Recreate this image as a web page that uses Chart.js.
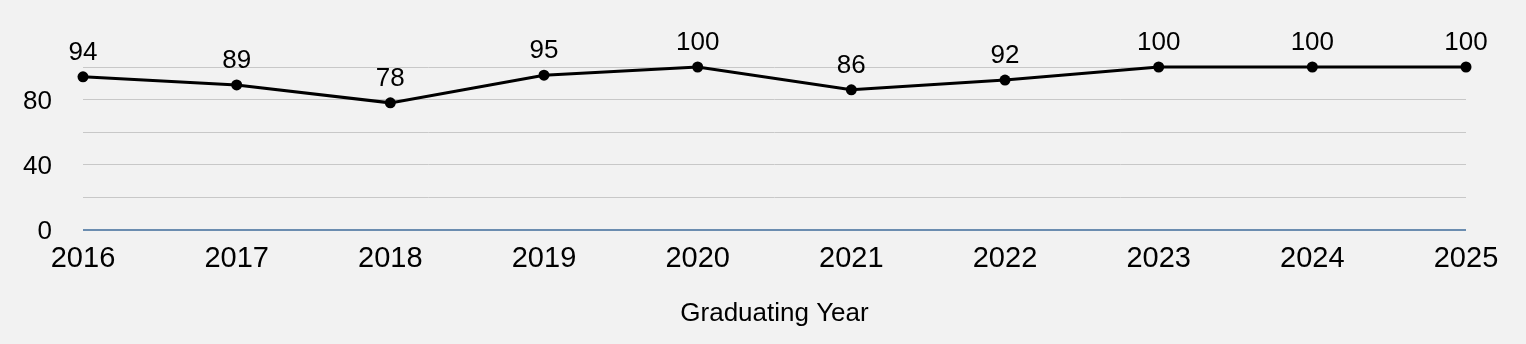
<!DOCTYPE html>
<html lang="en">
  <head>
    <meta charset="UTF-8" />
    <title>Graduating Year</title>
    <script src="https://cdn.jsdelivr.net/npm/chart.js"></script>
    <style>
      html, body { margin: 0; padding: 0; background: #f2f2f2; }
      .chart-box { width: 1526px; height: 344px; }
    </style>
  </head>
  <body>
    <div class="chart-box">
      <canvas id="yearChart"></canvas>
    </div>

    <script>
      // Data
      const years = ["2016", "2017", "2018", "2019", "2020", "2021", "2022", "2023", "2024", "2025"];
      const rates = [94, 89, 78, 95, 100, 86, 92, 100, 100, 100];
      const yLabels = [0, 40, 80]; // only these ticks carry text

      const FONT = 'Helvetica, "Liberation Sans", Arial, sans-serif';

      // Value labels above each point
      const pointLabels = {
        id: "pointLabels",
        afterDatasetsDraw(chart) {
          const ctx = chart.ctx;
          const meta = chart.getDatasetMeta(0);
          ctx.save();
          ctx.font = "26px " + FONT;
          ctx.fillStyle = "#000";
          ctx.textAlign = "center";
          ctx.textBaseline = "alphabetic";
          meta.data.forEach((pt, i) => {
            ctx.fillText(String(rates[i]), pt.x, pt.y - 17);
          });
          ctx.restore();
        },
      };

      new Chart(document.getElementById("yearChart"), {
        type: "line",
        data: {
          labels: years,
          datasets: [
            {
              data: rates,
              borderColor: "#000",
              borderWidth: 3,
              backgroundColor: "#000",
              pointRadius: 5.5,
              pointHoverRadius: 5.5,
              pointBackgroundColor: "#000",
              pointBorderWidth: 0,
              tension: 0,
              fill: false,
              clip: false,
            },
          ],
        },
        options: {
          responsive: true,
          maintainAspectRatio: false,
          animation: false,
          layout: { padding: { top: 67, right: 60, left: 0, bottom: 0 } },
          plugins: {
            legend: { display: false },
            tooltip: { enabled: false },
          },
          scales: {
            x: {
              offset: false,
              grid: { display: false, drawTicks: false },
              border: { display: false },
              ticks: {
                color: "#000",
                padding: 12,
                maxRotation: 0,
                autoSkip: false,
                font: { family: FONT, size: 29 },
              },
              title: {
                display: true,
                text: "Graduating Year",
                color: "#000",
                font: { family: FONT, size: 26 },
                padding: { top: 0, bottom: 15 },
              },
              afterFit(scale) {
                scale.height = 114;
              },
            },
            y: {
              min: 0,
              max: 100,
              grid: {
                drawTicks: false,
                color: (c) => (c.tick && c.tick.value === 0 ? "#6b8db0" : "#c8c8c8"),
                lineWidth: (c) => (c.tick && c.tick.value === 0 ? 2 : 1),
              },
              border: { display: false },
              ticks: {
                stepSize: 20,
                autoSkip: false,
                color: "#000",
                padding: 31,
                labelOffset: 2,
                font: { family: FONT, size: 26 },
                callback: (v) => (yLabels.includes(v) ? String(v) : ""),
              },
              afterFit(scale) {
                scale.width = 83;
              },
            },
          },
        },
        plugins: [pointLabels],
      });
    </script>
  </body>
</html>
